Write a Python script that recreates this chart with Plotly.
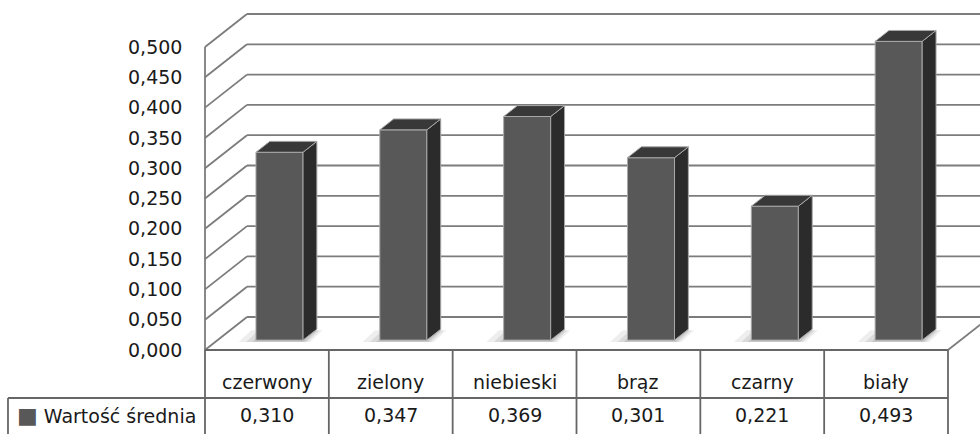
import plotly.graph_objects as go

categories = ["czerwony", "zielony", "niebieski", "brąz", "czarny", "biały"]
values = [0.310, 0.347, 0.369, 0.301, 0.221, 0.493]
value_labels = ["0,310", "0,347", "0,369", "0,301", "0,221", "0,493"]
series_name = "Wartość średnia"
tick_vals = [0.0, 0.05, 0.10, 0.15, 0.20, 0.25, 0.30, 0.35, 0.40, 0.45, 0.50]
tick_text = ["0,000", "0,050", "0,100", "0,150", "0,200", "0,250",
             "0,300", "0,350", "0,400", "0,450", "0,500"]

FONT = "DejaVu Sans, sans-serif"
FS = 19
TXT = "#1a1a1a"
GRID = "#7c7c7c"
TABLE = "#666666"
FRONT = "#585858"
SIDE = "#2b2b2b"
TOP = "#383838"
EDGE = "#a8a8a8"

# 3D projection of depth (in axis units)
DX = 0.339
DY = 0.0545
D0, D1 = 0.30, 0.63
W = 0.38

n = len(categories)
xs = list(range(n))
X_LEFT, X_RIGHT = -0.5, n - 0.5

shapes = []

def line(x0, y0, x1, y1, color=GRID, width=1.8, layer="below"):
    shapes.append(dict(type="line", xref="x", yref="y", x0=x0, y0=y0, x1=x1, y1=y1,
                       line=dict(color=color, width=width), layer=layer))

def poly(pts, fill, layer="above", lc=EDGE, lw=1):
    path = "M " + " L ".join(f"{px},{py}" for px, py in pts) + " Z"
    shapes.append(dict(type="path", xref="x", yref="y", path=path, fillcolor=fill,
                       line=dict(color=lc, width=lw), layer=layer))

# walls: gridlines on left wall (diagonal) and back wall (horizontal)
for v in tick_vals:
    line(X_LEFT, v, X_LEFT + DX, v + DY)
    line(X_LEFT + DX, v + DY, X_RIGHT + DX + 0.3, v + DY)
# left wall front edge
line(X_LEFT, 0, X_LEFT, tick_vals[-1])
# floor front edge and right edge
line(X_LEFT, 0, X_RIGHT, 0, color=TABLE)
line(X_RIGHT, 0, X_RIGHT + DX, DY)

# soft shadows under bars
for i, v in zip(xs, values):
    xl = i + D0 * DX - W / 2
    xr = i + D0 * DX + W / 2
    for grow, alpha in ((0.14, 0.15), (0.08, 0.2), (0.03, 0.25)):
        shapes.append(dict(type="path", xref="x", yref="y", layer="below",
                           path=f"M {xl-grow},{D0*DY-0.003} L {xr+grow*0.4},{D0*DY-0.003} "
                                f"L {xr+grow*0.4+0.3*DX},{D0*DY+0.3*DY} L {xl-grow+0.3*DX},{D0*DY+0.3*DY} Z",
                           fillcolor=f"rgba(140,140,140,{alpha})", line=dict(width=0)))

# bar side and top faces
for i, v in zip(xs, values):
    xl = i + D0 * DX - W / 2
    xr = i + D0 * DX + W / 2
    ddx = (D1 - D0) * DX
    y0 = D0 * DY
    y1 = D1 * DY
    poly([(xr, y0), (xr, v + y0), (xr + ddx, v + y1), (xr + ddx, y1)], SIDE)
    poly([(xl, v + y0), (xr, v + y0), (xr + ddx, v + y1), (xl + ddx, v + y1)], TOP)

# data table
ROW1 = -0.0792
BOTTOM = -0.16
LEG_X = -2.091
for k in range(n + 1):
    line(X_LEFT + k, 0, X_LEFT + k, BOTTOM, color=TABLE)
line(LEG_X, ROW1, X_RIGHT, ROW1, color=TABLE)
line(LEG_X, ROW1, LEG_X, BOTTOM, color=TABLE)

annotations = []
for i, c, t in zip(xs, categories, value_labels):
    annotations.append(dict(x=i, y=-0.0528, xref="x", yref="y", text=c, showarrow=False,
                            font=dict(family=FONT, size=FS, color=TXT)))
    annotations.append(dict(x=i, y=-0.1073, xref="x", yref="y", text=t, showarrow=False,
                            font=dict(family=FONT, size=FS, color=TXT)))
annotations.append(dict(x=LEG_X + 0.06, y=-0.1073, xref="x", yref="y", xanchor="left",
                        text=f"<span style='color:{FRONT};font-size:22px'>■</span> {series_name}",
                        showarrow=False, font=dict(family=FONT, size=FS, color=TXT)))

fig = go.Figure()
fig.add_trace(go.Bar(
    x=[i + D0 * DX for i in xs], y=values, base=D0 * DY, width=W,
    marker=dict(color=FRONT, line=dict(color=EDGE, width=1)),
    hoverinfo="skip", showlegend=False,
))

fig.update_layout(
    width=980, height=434,
    margin=dict(l=0, r=0, t=0, b=0),
    paper_bgcolor="white", plot_bgcolor="white",
    shapes=shapes, annotations=annotations,
    xaxis=dict(range=[-2.1555, 5.7585], visible=False, fixedrange=True),
    yaxis=dict(range=[-0.1386, 0.5776], showgrid=False, zeroline=False, showline=False,
               tickvals=tick_vals, ticktext=tick_text, ticks="",
               ticklabelposition="inside", ticklabelstandoff=125,
               tickfont=dict(family=FONT, size=FS, color=TXT), fixedrange=True),
    showlegend=False,
)

fig.write_html("out.html")
